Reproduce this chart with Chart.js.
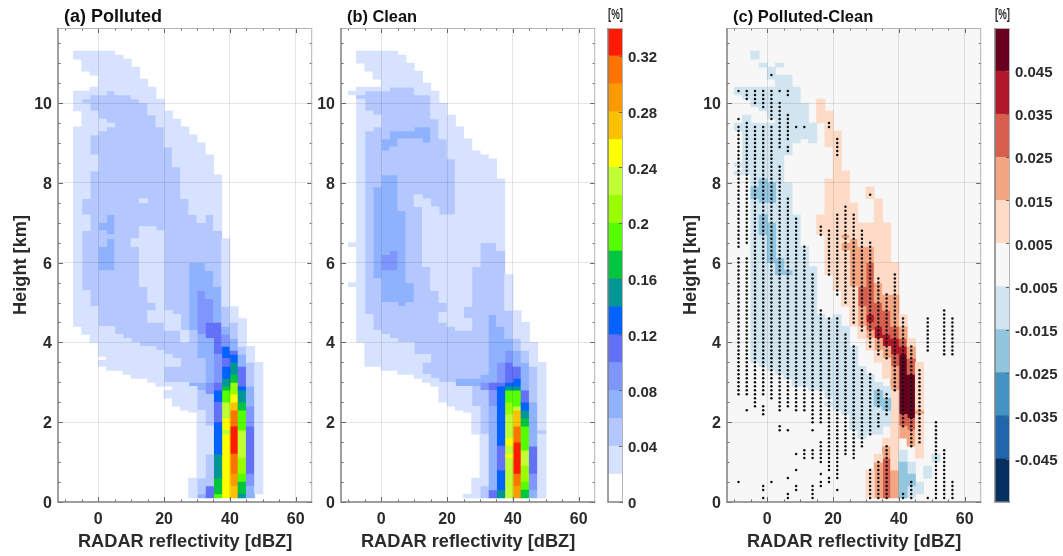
<!DOCTYPE html>
<html>
<head>
<meta charset="utf-8">
<script src="https://cdn.jsdelivr.net/npm/chart.js@4"></script>
<style>
  html, body { margin: 0; background: #fff; }
  .slot { position: absolute; top: 0; height: 556px; filter: blur(.35px); }
  #slotA { left: 0; width: 325px; }
  #slotB { left: 315px; width: 290px; }
  #slotBarA { left: 596px; width: 68px; }
  #slotC { left: 680px; width: 310px; }
  #slotBarC { left: 985px; width: 78px; }
</style>
</head>
<body>
<div class="slot" id="slotA"><canvas id="polluted" width="325" height="556"></canvas></div>
<div class="slot" id="slotB"><canvas id="clean" width="290" height="556"></canvas></div>
<div class="slot" id="slotBarA"><canvas id="cbA" width="68" height="556"></canvas></div>
<div class="slot" id="slotC"><canvas id="diff" width="310" height="556"></canvas></div>
<div class="slot" id="slotBarC"><canvas id="cbC" width="78" height="556"></canvas></div>
<script>
const xTicks = [-10, -5, 0, 5, 10, 15, 20, 25, 30, 35, 40, 45, 50, 55, 60];
const xLabels = [0, 20, 40, 60];
const yTicks = [0, .5, 1, 1.5, 2, 2.5, 3, 3.5, 4, 4.5, 5, 5.5, 6, 6.5, 7, 7.5, 8, 8.5, 9, 9.5, 10, 10.5, 11, 11.5];
const yLabels = [0, 2, 4, 6, 8, 10];

const absColors = ['#ffffff', '#d6e2ff', '#b4c8ff', '#8fb2ff', '#7f96ff', '#6370f8', '#0063ff', '#009696', '#00c63f',
  '#55ff00', '#99ff00', '#bfff33', '#ffff00', '#ffc000', '#ff9900', '#ff7300', '#ff1a00'];
const absEdges = [0, .02, .04, .06, .08, .1, .12, .14, .16, .18, .2, .22, .24, .26, .28, .3, .32, .34];
const absTicks = [0, .04, .08, .12, .16, .2, .24, .28, .32];

// index 0..10 = -5..+5 in the run lists below
const diffColors = ['#053061', '#2166ac', '#4393c3', '#92c5de', '#d1e5f0', '#f7f7f7', '#fddbc7', '#f4a582', '#d6604d', '#b2182b', '#67001f'];
const diffEdges = [-.055, -.045, -.035, -.025, -.015, -.005, .005, .015, .025, .035, .045, .055];
const diffTicks = [-.045, -.035, -.025, -.015, -.005, .005, .015, .025, .035, .045];

// each column: left edge in dBZ, then [level, top km, bottom km]
const pollutedRuns = [
  [-7.5, [1,11.3,11.1], [1,10.3,9.8], [1,9.4,4.4]],
  [-5, [1,11.3,10.8], [1,10.3,10.1], [2,10.1,10], [1,10,7.6], [2,7.6,7.2], [1,7.2,6.8], [2,6.8,5.3], [1,5.3,4.2]],
  [-2.5, [1,11.3,10.7], [1,10.4,10.2], [2,10.2,9.8], [1,9.8,9.2], [2,9.2,8.7], [1,8.7,8.3], [2,8.3,4.9], [1,4.9,4]],
  [0, [1,11.3,10.3], [1,10.3,10.2], [2,10.2,9.6], [1,9.6,9.3], [2,9.3,7], [3,7,6.8], [2,6.8,6.4], [3,6.4,5.8], [2,5.8,4.4], [1,4.4,3.65], [1,3.55,3.4]],
  [2.5, [1,11.3,10.3], [2,10.3,9.5], [1,9.5,9.4], [2,9.4,7.2], [3,7.2,6.7], [2,6.7,6.6], [3,6.6,5.8], [2,5.8,4.4], [1,4.4,3.3]],
  [5, [1,11.2,10.2], [2,10.2,4.2], [1,4.2,3.3]],
  [7.5, [1,11.1,10.2], [2,10.2,4.1], [1,4.1,3.2]],
  [10, [1,10.9,10.1], [2,10.1,6.6], [1,6.6,6.4], [2,6.4,4], [1,4,3.1]],
  [12.5, [1,10.6,10], [2,10,7.6], [1,7.6,7.5], [2,7.5,6.9], [1,6.9,5.4], [2,5.4,3.9], [1,3.9,3.1]],
  [15, [1,10.4,9.7], [2,9.7,6.9], [1,6.9,5], [2,5,4.8], [1,4.8,4.5], [2,4.5,3.9], [1,3.9,3]],
  [17.5, [1,10.1,9.4], [2,9.4,6.8], [1,6.8,4.5], [2,4.5,3.8], [1,3.8,2.9]],
  [20, [1,9.8,8.9], [2,8.9,4.8], [1,4.8,4.3], [2,4.3,3.7], [1,3.7,3.4], [2,3.4,3], [1,3,2.9], [1,2.8,2.6]],
  [22.5, [1,9.6,8.4], [2,8.4,4.7], [1,4.7,4.3], [2,4.3,3.6], [1,3.6,3.4], [2,3.4,3], [1,3,2.4]],
  [25, [1,9.4,7.6], [2,7.6,4.3], [1,4.3,4], [2,4,3], [1,3,2.3]],
  [27.5, [1,9.2,7.2], [2,7.2,6], [3,6,4.3], [2,4.3,3], [3,3,2.9], [1,2.9,2.25], [1,.6,.1]],
  [30, [1,9,7], [2,7,6], [3,6,5.3], [4,5.3,4.2], [3,4.2,3.6], [2,3.6,3], [3,3,2.8], [2,2.8,2.3], [1,2.3,.6], [2,.6,.2], [3,.2,.1]],
  [32.5, [1,8.7,7.2], [2,7.2,5.8], [3,5.8,5.1], [4,5.1,4.5], [5,4.5,4.1], [3,4.1,3], [4,3,2.7], [2,2.7,1.9], [1,1.9,1.2], [2,1.2,.4], [5,.4,.1]],
  [35, [1,8.2,6.8], [2,6.8,5.4], [3,5.4,4.5], [5,4.5,3.7], [4,3.7,3], [5,3,2.8], [6,2.8,2.5], [5,2.5,2], [6,2,1.2], [7,1.2,.6], [8,.6,.2], [9,.2,.1]],
  [37.5, [1,6.6,4.9], [2,4.9,4.4], [3,4.4,4.2], [4,4.2,3.9], [6,3.9,3.6], [5,3.6,3.4], [6,3.4,3.1], [7,3.1,2.9], [8,2.9,2.8], [9,2.8,2.5], [11,2.5,2.1], [12,2.1,1.8], [11,1.8,1.7], [12,1.7,.1]],
  [40, [1,4.9,4.5], [2,4.5,4.1], [3,4.1,3.8], [5,3.8,3.7], [6,3.7,3.5], [7,3.5,3.2], [8,3.2,3], [10,3,2.7], [12,2.7,2.5], [13,2.5,2.3], [15,2.3,1.9], [16,1.9,1.2], [15,1.2,.7], [14,.7,.4], [13,.4,.1]],
  [42.5, [1,4.6,3.9], [2,3.9,3.7], [3,3.7,3.4], [5,3.4,2.9], [6,2.9,2.8], [7,2.8,2.5], [8,2.5,2.3], [9,2.3,1.8], [11,1.8,1.1], [10,1.1,.7], [9,.7,.5], [8,.5,.2], [7,.2,.1]],
  [45, [1,3.9,3.5], [2,3.5,2.9], [3,2.9,2.4], [4,2.4,1.9], [5,1.9,.7], [4,.7,.4], [3,.4,.1]],
  [47.5, [1,3.5,.2]],
];

const cleanRuns = [
  [-10, [1,10.3,10.2], [1,6.5,6.4], [1,5.5,5.4]],
  [-7.5, [1,11.3,11], [1,10.4,10.2], [2,10.2,10.1], [1,10.1,4]],
  [-5, [1,11.3,10.8], [1,10.4,10.3], [2,10.3,9.8], [1,9.8,9.3], [2,9.3,4.7], [1,4.7,3.4]],
  [-2.5, [1,11.3,10.6], [1,10.4,10.3], [2,10.3,9.7], [1,9.7,9.4], [2,9.4,7.9], [3,7.9,5.6], [2,5.6,4.3], [1,4.3,3.4]],
  [0, [1,11.3,10.3], [2,10.3,9.1], [3,9.1,8.8], [2,8.8,8.2], [3,8.2,6.2], [4,6.2,5.8], [3,5.8,5], [2,5,4.2], [1,4.2,3.3]],
  [2.5, [1,11.3,10.4], [2,10.4,9.3], [3,9.3,8.9], [2,8.9,8.2], [3,8.2,6.3], [4,6.3,5.8], [3,5.8,5], [2,5,4.1], [1,4.1,3.3]],
  [5, [1,11.2,10.4], [2,10.4,9.3], [3,9.3,9.1], [2,9.1,7.3], [3,7.3,4.9], [2,4.9,4], [1,4,3.2]],
  [7.5, [1,11,10.4], [2,10.4,9.3], [3,9.3,9.1], [2,9.1,5.5], [3,5.5,5], [2,5,4], [1,4,3.2]],
  [10, [1,10.8,10.2], [2,10.2,9.4], [3,9.4,9.1], [2,9.1,7.7], [1,7.7,7.4], [2,7.4,3.7], [1,3.7,3.1]],
  [12.5, [1,10.5,10.2], [2,10.2,9.4], [3,9.4,9], [2,9,7.6], [1,7.6,5.9], [2,5.9,3.7], [1,3.7,3.5], [2,3.5,3.2], [1,3.2,3]],
  [15, [1,10.3,9.6], [2,9.6,7.4], [1,7.4,5.3], [2,5.3,3.1], [1,3.1,2.9]],
  [17.5, [1,10,9.1], [2,9.1,7.2], [1,7.2,5], [2,5,4.75], [1,4.75,4.5], [2,4.5,3], [1,3,2.5]],
  [20, [1,9.7,8.6], [2,8.6,7.2], [1,7.2,4.4], [2,4.4,3], [1,3,2.4]],
  [22.5, [1,9.4,4.3], [2,4.3,3.1], [3,3.1,2.9], [1,2.9,2.3]],
  [25, [1,9.1,4.9], [2,4.9,4.6], [1,4.6,4.3], [2,4.3,3.1], [3,3.1,2.9], [1,2.9,2.25], [1,.2,.1]],
  [27.5, [1,8.8,5.9], [2,5.9,3.1], [3,3.1,2.9], [2,2.9,2.4], [1,2.4,1.7], [1,.6,.1]],
  [30, [1,8.7,6.5], [2,6.5,3.2], [3,3.2,3], [4,3,2.8], [2,2.8,1.7], [1,1.7,.4], [2,.4,.1]],
  [32.5, [1,8.6,6.5], [2,6.5,4.7], [3,4.7,3], [5,3,2.8], [4,2.8,2.4], [3,2.4,.3], [5,.3,.1]],
  [35, [1,8.1,6.3], [2,6.3,4.4], [3,4.4,3.5], [4,3.5,3], [5,3,2.9], [6,2.9,1.4], [5,1.4,.8], [6,.8,.3], [7,.3,.1]],
  [37.5, [1,5.7,4.8], [2,4.8,4.1], [3,4.1,3.8], [4,3.8,3.5], [5,3.5,3], [6,3,2.9], [7,2.9,2.8], [9,2.8,2.5], [10,2.5,2.2], [11,2.2,1.6], [12,1.6,1.4], [11,1.4,1.2], [12,1.2,1.1], [11,1.1,.1]],
  [40, [1,4.8,4.1], [2,4.1,3.8], [3,3.8,3.4], [5,3.4,3.1], [6,3.1,2.9], [7,2.9,2.8], [9,2.8,2.4], [11,2.4,2.3], [13,2.3,1.9], [15,1.9,1.5], [16,1.5,.7], [15,.7,.4], [14,.4,.1]],
  [42.5, [1,4.5,3.8], [2,3.8,3.5], [3,3.5,2.8], [5,2.8,2.5], [6,2.5,2.3], [7,2.3,2.1], [8,2.1,1.9], [9,1.9,1.3], [11,1.3,.9], [10,.9,.5], [9,.5,.3], [8,.3,.1]],
  [45, [1,4,3.4], [2,3.4,2.5], [3,2.5,1.4], [5,1.4,.7], [4,.7,.3], [3,.3,.1]],
  [47.5, [1,3.5,1.8], [2,1.8,1.7], [1,1.7,.1]],
];

// level -5..5 (0 is the plot background)
const diffRuns = [
  [-10, [-1,10.4,10.2], [-1,9.5,9.3], [-1,8.5,8.4], [-1,8.3,8.2]],
  [-7.5, [-1,10.4,10.1], [-1,9.7,8.2]],
  [-5, [-1,11.3,11.1], [-1,10.4,9.9], [-1,9.5,7.9], [-2,7.9,7.6], [-1,7.6,3.5]],
  [-2.5, [-1,11,10.9], [-1,10.4,9.8], [-1,9.5,8.1], [-2,8.1,7.5], [-1,7.5,7.2], [-2,7.2,6.7], [-1,6.7,3.4]],
  [0, [-1,10.9,10.6], [-1,10.4,9.6], [-1,9.5,8], [-2,8,7.5], [-1,7.5,7], [-2,7,6], [-1,6,3.3]],
  [2.5, [-1,11,10.9], [-1,10.7,6.1], [-2,6.1,5.7], [-1,5.7,3.2]],
  [5, [-1,10.7,8.7], [-1,8,5.8], [-2,5.8,5.7], [-1,5.7,3.1]],
  [7.5, [-1,10.4,9], [-1,7.2,2.9]],
  [10, [-1,10,9.1], [-1,6.4,2.9]],
  [12.5, [-1,9.5,9], [-1,5.9,2.8]],
  [15, [1,10.1,9.5], [1,7.2,6.7], [-1,4.7,2.8]],
  [17.5, [1,9.8,8.9], [1,8.1,5.7], [-1,4.6,2.6], [-1,2.5,2.4]],
  [20, [1,9.3,5.3], [-1,4.7,2.3]],
  [22.5, [1,8.3,6.7], [2,6.7,6.6], [1,6.6,6.5], [2,6.5,6.3], [1,6.3,4.9], [-1,4.4,2.2]],
  [25, [1,7.5,6.6], [2,6.6,5.4], [1,5.4,4.4], [-1,3.9,1.8]],
  [27.5, [1,7,6.4], [2,6.4,5.4], [3,5.4,4.9], [2,4.9,4.4], [1,4.4,4.1], [-1,3.4,1.6]],
  [30, [1,7.9,7.6], [1,7,6.4], [2,6.4,6], [3,6,5.6], [3,5.6,4.7], [4,4.7,4.5], [3,4.5,4.3], [2,4.3,4.1], [1,4.1,3.8], [-1,3.2,1.7], [1,.8,.1]],
  [32.5, [1,7.6,5.5], [2,5.5,5], [3,5,4.4], [4,4.4,4.1], [2,4.1,3.8], [1,3.8,3.5], [-1,3,2.8], [-2,2.8,2.4], [-1,2.4,1.7], [1,1.2,1], [2,1,.1]],
  [35, [1,7,5.2], [2,5.2,4.8], [3,4.8,4.2], [4,4.2,3.9], [2,3.9,3.6], [1,3.6,3.1], [-1,2.9,2.6], [-2,2.6,2.3], [-1,2.3,1.9], [1,1.6,1.4], [2,1.4,1.1], [3,1.1,.1]],
  [37.5, [1,6,5.2], [2,5.2,4.4], [3,4.4,4.1], [4,4.1,3.7], [3,3.7,3.4], [2,3.4,2.8], [1,2.8,.8], [2,.8,.1]],
  [40, [1,4.7,4.4], [2,4.4,4.1], [3,4.1,3.9], [4,3.9,3.7], [5,3.7,2.2], [3,2.2,1.9], [2,1.9,1.6], [-1,1.3,1], [-2,1,.1]],
  [42.5, [1,4.1,3.9], [2,3.9,3.6], [3,3.6,3.2], [5,3.2,2.1], [3,2.1,1.8], [2,1.8,1.4], [-1,1,.7], [-2,.7,.4], [-1,.4,.1]],
  [45, [1,3.5,2.3], [2,2.3,2.2], [1,2.2,1.1], [-1,.5,.2]],
  [47.5, [-1,.9,.6]],
  [50, [-1,1.2,1]],
];

// significance dots: column left edge, then [top km, bottom km] spans at 0.1 km spacing
const sigDots = [
  [-10, [10.3,10.3], [9.6,9.6], [9.4,6.4], [6.1,2.7], [.5,.5]],
  [-7.5, [10.3,10.1], [9.5,6.5], [6.1,2.7], [2.3,2.3]],
  [-5, [10.3,10], [9.4,2.4]],
  [-2.5, [10.3,9.9], [9.4,2.7], [2.4,2.2], [.4,.3], [.1,.1]],
  [0, [10.7,10.7], [10.3,9.6], [9.4,2.6], [.5,.5]],
  [2.5, [10.3,10.3], [10,8.9], [8.4,2.3], [1.9,1.8]],
  [5, [10.3,10.2], [9.7,9.1], [8.9,8.8], [7.6,2.4], [1.8,1.8], [.6,.6], [.2,.1]],
  [7.5, [9.4,9.4], [7.1,2.3], [1.2,1.2], [.8,.8], [.4,.3]],
  [10, [9.4,9.4], [6.4,2.3], [1.3,1.1]],
  [12.5, [5.7,2], [1.8,1.8], [1.3,1.1], [.4,.1]],
  [15, [6.9,6.7], [4.8,4.5], [4.4,2], [1.5,1], [.7,.7], [.5,.4]],
  [17.5, [9.5,9.4], [6.8,5.7], [4.6,.8], [.6,.5]],
  [20, [9.1,8.7], [7.2,5.2], [4.6,.6], [.3,.3]],
  [22.5, [7.4,5], [4.2,1.2]],
  [25, [7.2,4.5], [3.9,1.1]],
  [27.5, [6.8,4.3], [3.3,1.4]],
  [30, [7.7,7.7], [6.5,3.9], [3.2,1.7], [.8,.1]],
  [32.5, [5.6,3.7], [2.8,2.4], [2.2,1.9], [1,.1]],
  [35, [5.2,3.6], [2.7,2.2], [1.4,.1]],
  [37.5, [5.7,2.8]],
  [40, [4.6,1.9], [.2,.1]],
  [42.5, [3.9,1.4], [.5,.1]],
  [45, [3.3,1.5]],
  [47.5, [4.6,3.8], [.1,.1]],
  [50, [2,.1]],
  [52.5, [4.8,3.7], [1.3,.1]],
  [55, [4.6,3.7], [.5,.1]],
];

const TEXT = '#2b2b2b';
const FONT = '"Liberation Sans", Arial, sans-serif';
const CELL_W = 8.5;

Chart.defaults.animation = false;
Chart.defaults.font.family = FONT;
Chart.defaults.color = TEXT;

// matlab style box: inward ticks on the sides asked for, darker left/bottom
const frameTicks = {
  id: 'frameTicks',
  beforeDatasetsDraw(chart, args, o) {
    if (!o.bg) return;
    const a = chart.chartArea, c = chart.ctx;
    c.fillStyle = o.bg;
    c.fillRect(a.left, a.top, a.width, a.height);
  },
  afterDraw(chart, args, o) {
    const a = chart.chartArea, c = chart.ctx;
    c.save();
    c.lineWidth = 1;
    c.strokeStyle = '#666';
    c.beginPath();
    (o.xTicks || []).forEach(v => {
      const x = Math.round(chart.scales.x.getPixelForValue(v)) + .5;
      const len = xLabels.includes(v) ? 5 : 2.5;
      c.moveTo(x, a.bottom); c.lineTo(x, a.bottom - len);
      c.moveTo(x, a.top); c.lineTo(x, a.top + len);
    });
    (o.yTicks || []).forEach(v => {
      const y = Math.round(chart.scales.y.getPixelForValue(v)) + .5;
      const len = o.left === false ? 4 : yLabels.includes(v) ? 5 : 2.5;
      if (o.left !== false) { c.moveTo(a.left, y); c.lineTo(a.left + len, y); }
      c.moveTo(a.right, y); c.lineTo(a.right - len, y);
    });
    c.stroke();
    c.strokeStyle = '#b5b5b5';
    c.beginPath();
    c.moveTo(a.left, a.top + .5); c.lineTo(a.right, a.top + .5);
    c.moveTo(a.right - .5, a.top); c.lineTo(a.right - .5, a.bottom);
    c.stroke();
    c.strokeStyle = '#808080';
    c.lineWidth = 1.5;
    c.beginPath();
    c.moveTo(a.left, a.top); c.lineTo(a.left, a.bottom); c.lineTo(a.right, a.bottom);
    c.stroke();
    c.restore();
  },
  afterLayout(chart, args, o) {
    if (o.titleShift) { chart.titleBlock.left += o.titleShift; chart.titleBlock.right += o.titleShift; }
  },
};
Chart.register(frameTicks);

function cellDatasets(runs, colors, base) {
  return colors.map((color, i) => ({
    type: 'bar',
    backgroundColor: color,
    borderWidth: 0,
    barThickness: CELL_W,
    grouped: false,
    data: runs.flatMap(([left, ...spans]) => spans
      .filter(s => s[0] + base === i)
      .map(s => ({ x: left + 1.25, y: [s[2], s[1]] }))),
  }));
}

function dotDataset(columns) {
  const pts = [];
  columns.forEach(([left, ...spans]) => spans.forEach(([top, bot]) => {
    for (let n = Math.round(top * 10); n >= Math.round(bot * 10); n--) pts.push({ x: left + 1.25, y: n / 10 });
  }));
  return { type: 'scatter', data: pts, pointRadius: 1.25, pointBorderWidth: 0, backgroundColor: '#111', order: -1 };
}

function panel(id, title, titleSize, datasets, yWidth, right, yTitle, yTitleGap, bg) {
  const titleTop = 17 - .6 * titleSize;
  return new Chart(document.getElementById(id), {
    type: 'bar',
    data: { datasets },
    options: {
      responsive: false,
      layout: { padding: { right } },
      plugins: {
        legend: { display: false },
        tooltip: { enabled: false },
        title: { display: true, text: title, align: 'start', fullSize: false, color: '#111',
          font: { size: titleSize, weight: 'bold' }, padding: { top: titleTop, bottom: 28 - titleTop - 1.2 * titleSize } },
        frameTicks: { xTicks, yTicks, bg, titleShift: 6 },
      },
      scales: {
        x: {
          type: 'linear', min: -12.25, max: 65, offset: false,
          afterBuildTicks: s => { s.ticks = xTicks.map(value => ({ value })); },
          afterFit: s => { s.height = 54; },
          grid: { offset: false, z: 1, drawTicks: false, color: c => xLabels.includes(c.tick.value) ? 'rgba(0,0,0,.1)' : 'rgba(0,0,0,0)' },
          border: { display: false },
          ticks: { autoSkip: false, maxRotation: 0, padding: 8, color: TEXT, font: { size: 16, weight: 'bold' },
            callback: v => xLabels.includes(v) ? String(v) : '' },
          title: { display: true, text: 'RADAR reflectivity [dBZ]', color: TEXT, font: { size: 18.2, weight: 'bold' }, padding: { top: 3, bottom: 3 } },
        },
        y: {
          min: 0, max: 11.88,
          afterBuildTicks: s => { s.ticks = yTicks.map(value => ({ value })); },
          afterFit: s => { s.width = yWidth; },
          grid: { z: 1, drawTicks: false, color: c => yLabels.includes(c.tick.value) && c.tick.value > 0 ? 'rgba(0,0,0,.1)' : 'rgba(0,0,0,0)' },
          border: { display: false },
          ticks: { autoSkip: false, padding: 6, labelOffset: 1.5, color: TEXT, font: { size: 16, weight: 'bold' },
            callback: v => yLabels.includes(v) ? String(v) : '' },
          title: { display: yTitle, text: 'Height [km]', color: TEXT, font: { size: 18.2, weight: 'bold' }, padding: { top: yTitleGap, bottom: yTitleGap } },
        },
      },
    },
  });
}

function colorbar(id, edges, colors, ticks, left, axisWidth, fmt) {
  return new Chart(document.getElementById(id), {
    type: 'bar',
    data: {
      labels: ['bar'],
      datasets: colors.map((color, i) => ({
        backgroundColor: color, borderWidth: 0, grouped: false, barPercentage: 1, categoryPercentage: 1,
        data: [[edges[i], edges[i + 1]]],
      })),
    },
    options: {
      responsive: false,
      layout: { padding: { left } },
      plugins: {
        legend: { display: false },
        tooltip: { enabled: false },
        title: { display: true, text: '[%]', align: 'center', fullSize: false, color: TEXT,
          font: { size: 14, weight: 'bold' }, padding: { top: 6.6, bottom: 4.6 } },
        frameTicks: { yTicks: ticks, left: false },
      },
      scales: {
        x: { display: false, afterFit: s => { s.height = 54; } },
        y: {
          position: 'right', min: edges[0], max: edges[edges.length - 1],
          afterBuildTicks: s => { s.ticks = ticks.map(value => ({ value })); },
          afterFit: s => { s.width = axisWidth; },
          grid: { display: false, drawTicks: false },
          border: { display: false },
          ticks: { autoSkip: false, padding: 5, labelOffset: 2, color: TEXT, font: { size: 15, weight: 'bold' }, callback: fmt },
        },
      },
    },
  });
}

panel('polluted', '(a) Polluted', 18, [dotDataset([]), ...cellDatasets(pollutedRuns, absColors, 0)], 58, 325 - 312.2, true, 10);
panel('clean', '(b) Clean', 16.4, [dotDataset([]), ...cellDatasets(cleanRuns, absColors, 0)], 26, 290 - 280.2, false, 0);
panel('diff', '(c) Polluted-Clean', 16.5, [dotDataset(sigDots), ...cellDatasets(diffRuns, diffColors, 5)], 47, 310 - 301.2, true, 0, '#f7f7f7');
colorbar('cbA', absEdges, absColors, absTicks, 12, 41, v => String(+v.toFixed(2)));
colorbar('cbC', diffEdges, diffColors, diffTicks, 10, 53, v => v.toFixed(3));
</script>
</body>
</html>
